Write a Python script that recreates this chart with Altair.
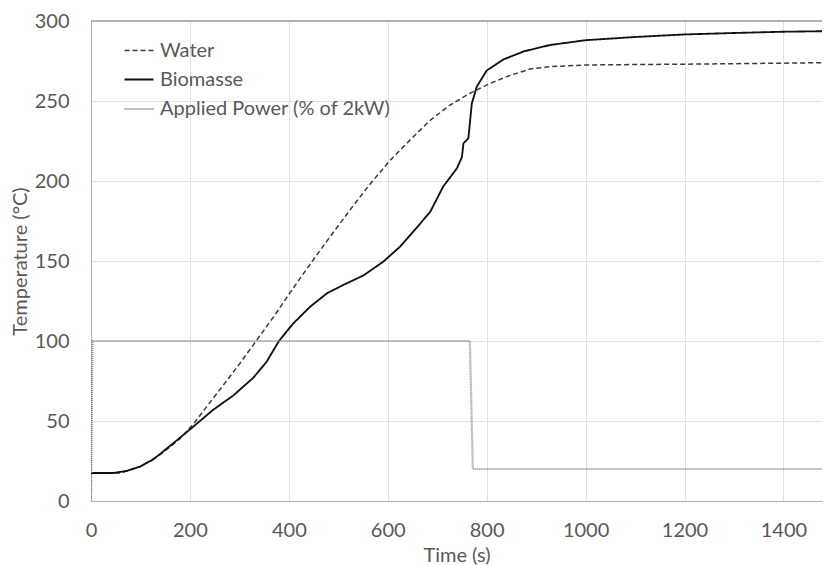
import altair as alt
import pandas as pd

series_names = ["Water", "Biomasse", "Applied Power (% of 2kW)"]

water_t = [0, 60, 100, 140, 180, 207, 234, 274, 301, 335, 369, 402, 443, 483, 524, 564,
           605, 645, 686, 726, 766, 807, 847, 888, 928, 1000, 1100, 1200, 1350, 1500]
water_v = [17.5, 17.5, 21.5, 29, 39, 48, 59, 75, 86, 100.5, 115, 130, 148, 165, 182, 198,
           213, 225.6, 238, 247.5, 254.8, 261, 266, 270, 271.5, 272.5, 272.8, 273, 273.5, 274]

bio_t = [0, 45, 72, 99, 126, 166, 207, 247, 288, 328, 355, 380, 409, 443, 477, 510, 551, 591,
         625, 659, 686, 712, 740, 750, 753, 763, 770, 780, 800, 834, 875, 928, 1000, 1100,
         1200, 1300, 1400, 1500]
bio_v = [17.5, 17.5, 18.8, 21.5, 26, 36, 46.5, 57, 66, 77, 87, 100, 111, 121.4, 129.8, 135, 141, 149.6,
         159, 171, 180.8, 196.5, 208, 215, 223.5, 226.7, 248.5, 259, 269, 276, 281, 285, 288, 290,
         291.6, 292.5, 293.3, 293.7]

power_t = [0, 3, 766, 772, 1500]
power_v = [0, 100, 100, 20, 20]

x_ticks = [0, 200, 400, 600, 800, 1000, 1200, 1400]
y_ticks = [0, 50, 100, 150, 200, 250, 300]
y_max = 300

rows = []
for name, ts, vs in zip(series_names, [water_t, bio_t, power_t], [water_v, bio_v, power_v]):
    for t, v in zip(ts, vs):
        rows.append({"series": name, "t": t, "v": v})
df = pd.DataFrame(rows)

FONT = "Lato"
GREY = "#595959"
BORDER = "#b0b0b0"


def make_legend():
    return alt.Legend(title=None, orient="none", legendX=32, legendY=14,
                      labelFont=FONT, labelFontSize=20, labelColor=GREY, labelLimit=0,
                      symbolSize=841, labelOffset=5, rowPadding=3, padding=0,
                      symbolType="stroke")


x_enc = alt.X("t:Q", title="Time (s)",
              scale=alt.Scale(domain=[0, 1478], nice=False),
              axis=alt.Axis(values=x_ticks, format="d", ticks=False, labelPadding=19, titlePadding=5,
                            labelFontSize=20, titleFontSize=20, labelFont=FONT, titleFont=FONT,
                            labelColor=GREY, titleColor=GREY, titleFontWeight="normal",
                            gridColor="#e0e0e0", domainColor=BORDER, labelFlush=False))
y_enc = alt.Y("v:Q", title="Temperature (°C)",
              scale=alt.Scale(domain=[0, y_max], nice=False),
              axis=alt.Axis(values=y_ticks, format="d", ticks=False, labelPadding=22, titlePadding=4,
                            labelFontSize=20, titleFontSize=20, labelFont=FONT, titleFont=FONT,
                            labelColor=GREY, titleColor=GREY, titleFontWeight="normal",
                            gridColor="#e0e0e0", domainColor=BORDER))

lines = alt.Chart(df).mark_line(interpolate="linear", clip=True).encode(
    x=x_enc,
    y=y_enc,
    color=alt.Color("series:N", sort=series_names,
                    scale=alt.Scale(domain=series_names, range=["#3a3a3a", "#111111", "#8a8a8a"]),
                    legend=make_legend()),
    strokeDash=alt.StrokeDash("series:N", sort=series_names,
                              scale=alt.Scale(domain=series_names, range=[[5, 3], [1, 0], [1, 1]]),
                              legend=make_legend()),
    strokeWidth=alt.StrokeWidth("series:N", sort=series_names,
                                scale=alt.Scale(domain=series_names, range=[1.5, 2.2, 1]),
                                legend=make_legend()),
)

top_border = alt.Chart(df).mark_rule(color=BORDER, strokeWidth=1).encode(
    y=alt.Y(datum=y_max)
)

chart = alt.layer(lines, top_border).properties(
    width=731, height=480,
    autosize=alt.AutoSizeParams(type="none"),
    padding={"left": 83, "top": 13, "right": 0, "bottom": 72},
).configure_view(stroke=None).configure(background="white")

chart.save("out.html", embed_options={"renderer": "svg", "actions": False})
